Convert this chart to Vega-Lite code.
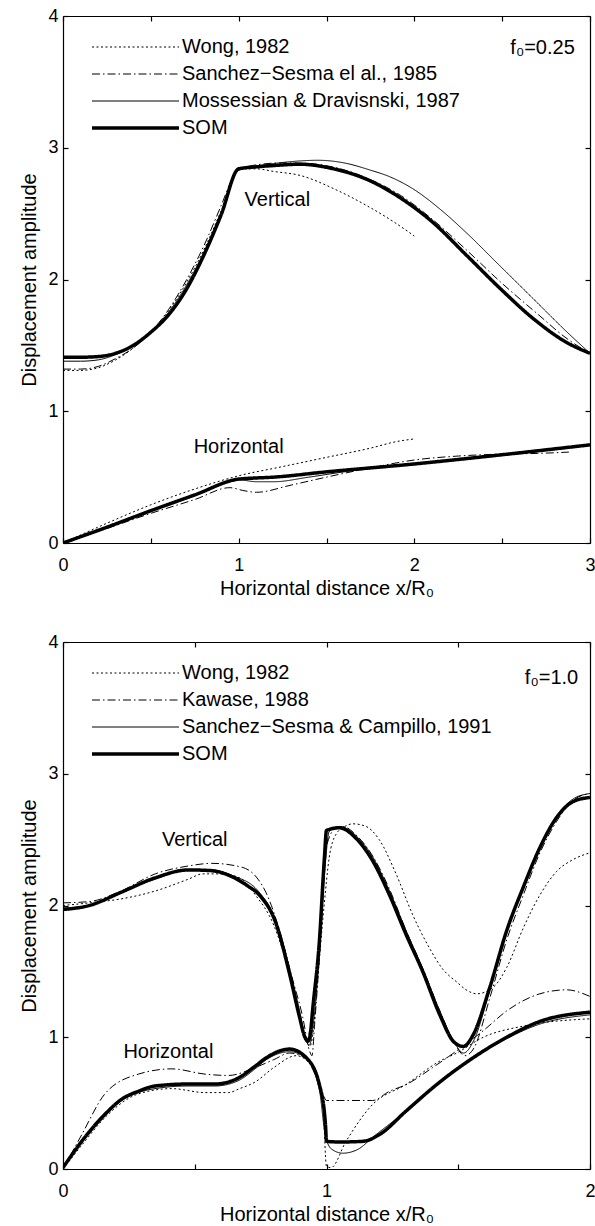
{
  "$schema": "https://vega.github.io/schema/vega-lite/v6.json",
  "padding": {"left": 19, "top": 7, "right": 0, "bottom": 0},
  "spacing": 35,
  "config": {
    "font": "Liberation Sans",
    "view": {"stroke": null},
    "axis": {
      "grid": false,
      "domainColor": "black",
      "domainWidth": 1.2,
      "tickColor": "black",
      "tickWidth": 1.2,
      "tickSize": -5,
      "labelFont": "Liberation Sans",
      "labelFontSize": 18,
      "labelColor": "black",
      "labelFlush": false,
      "labelOverlap": false,
      "titleFont": "Liberation Sans",
      "titleFontSize": 20,
      "titleFontWeight": "normal",
      "titleColor": "black"
    },
    "legend": {
      "orient": "none",
      "legendX": 95,
      "legendY": 21,
      "title": null,
      "labelFont": "Liberation Sans",
      "labelFontSize": 20,
      "labelColor": "black",
      "labelLimit": 0,
      "symbolType": "M-15.2,0H2.2",
      "symbolSize": 100,
      "symbolStrokeColor": "black",
      "symbolFillColor": "transparent",
      "labelOffset": 4,
      "rowPadding": 7,
      "padding": 0
    },
    "text": {"font": "Liberation Sans", "fontSize": 20, "color": "black"}
  },
  "datasets": {
    "a": [
      {"source":"Wong, 1982","comp":"V","x":0,"y":1.31},{"source":"Wong, 1982","comp":"V","x":0.1,"y":1.31},{"source":"Wong, 1982","comp":"V","x":0.2,"y":1.33},{"source":"Wong, 1982","comp":"V","x":0.3,"y":1.39},{"source":"Wong, 1982","comp":"V","x":0.4,"y":1.48},{"source":"Wong, 1982","comp":"V","x":0.5,"y":1.6},{"source":"Wong, 1982","comp":"V","x":0.6,"y":1.76},{"source":"Wong, 1982","comp":"V","x":0.7,"y":1.97},{"source":"Wong, 1982","comp":"V","x":0.8,"y":2.22},{"source":"Wong, 1982","comp":"V","x":0.9,"y":2.52},{"source":"Wong, 1982","comp":"V","x":1.0,"y":2.84},{"source":"Wong, 1982","comp":"V","x":1.1,"y":2.84},{"source":"Wong, 1982","comp":"V","x":1.2,"y":2.82},{"source":"Wong, 1982","comp":"V","x":1.35,"y":2.79},{"source":"Wong, 1982","comp":"V","x":1.54,"y":2.69},{"source":"Wong, 1982","comp":"V","x":1.73,"y":2.56},{"source":"Wong, 1982","comp":"V","x":1.88,"y":2.44},{"source":"Wong, 1982","comp":"V","x":2.0,"y":2.33},
      {"source":"Sanchez−Sesma el al., 1985","comp":"V","x":0,"y":1.32},{"source":"Sanchez−Sesma el al., 1985","comp":"V","x":0.1,"y":1.32},{"source":"Sanchez−Sesma el al., 1985","comp":"V","x":0.2,"y":1.34},{"source":"Sanchez−Sesma el al., 1985","comp":"V","x":0.3,"y":1.4},{"source":"Sanchez−Sesma el al., 1985","comp":"V","x":0.4,"y":1.48},{"source":"Sanchez−Sesma el al., 1985","comp":"V","x":0.5,"y":1.6},{"source":"Sanchez−Sesma el al., 1985","comp":"V","x":0.6,"y":1.77},{"source":"Sanchez−Sesma el al., 1985","comp":"V","x":0.7,"y":1.99},{"source":"Sanchez−Sesma el al., 1985","comp":"V","x":0.8,"y":2.25},{"source":"Sanchez−Sesma el al., 1985","comp":"V","x":0.9,"y":2.56},{"source":"Sanchez−Sesma el al., 1985","comp":"V","x":0.97,"y":2.78},{"source":"Sanchez−Sesma el al., 1985","comp":"V","x":1.0,"y":2.83},{"source":"Sanchez−Sesma el al., 1985","comp":"V","x":1.1,"y":2.87},{"source":"Sanchez−Sesma el al., 1985","comp":"V","x":1.25,"y":2.885},{"source":"Sanchez−Sesma el al., 1985","comp":"V","x":1.4,"y":2.88},{"source":"Sanchez−Sesma el al., 1985","comp":"V","x":1.55,"y":2.85},{"source":"Sanchez−Sesma el al., 1985","comp":"V","x":1.73,"y":2.77},{"source":"Sanchez−Sesma el al., 1985","comp":"V","x":1.92,"y":2.64},{"source":"Sanchez−Sesma el al., 1985","comp":"V","x":2.1,"y":2.46},{"source":"Sanchez−Sesma el al., 1985","comp":"V","x":2.3,"y":2.22},{"source":"Sanchez−Sesma el al., 1985","comp":"V","x":2.5,"y":1.97},{"source":"Sanchez−Sesma el al., 1985","comp":"V","x":2.7,"y":1.74},{"source":"Sanchez−Sesma el al., 1985","comp":"V","x":2.87,"y":1.55},{"source":"Sanchez−Sesma el al., 1985","comp":"V","x":3.0,"y":1.44},
      {"source":"Mossessian & Dravisnski, 1987","comp":"V","x":0,"y":1.38},{"source":"Mossessian & Dravisnski, 1987","comp":"V","x":0.1,"y":1.38},{"source":"Mossessian & Dravisnski, 1987","comp":"V","x":0.2,"y":1.39},{"source":"Mossessian & Dravisnski, 1987","comp":"V","x":0.3,"y":1.43},{"source":"Mossessian & Dravisnski, 1987","comp":"V","x":0.4,"y":1.5},{"source":"Mossessian & Dravisnski, 1987","comp":"V","x":0.5,"y":1.6},{"source":"Mossessian & Dravisnski, 1987","comp":"V","x":0.6,"y":1.75},{"source":"Mossessian & Dravisnski, 1987","comp":"V","x":0.7,"y":1.95},{"source":"Mossessian & Dravisnski, 1987","comp":"V","x":0.8,"y":2.2},{"source":"Mossessian & Dravisnski, 1987","comp":"V","x":0.9,"y":2.5},{"source":"Mossessian & Dravisnski, 1987","comp":"V","x":1.0,"y":2.83},{"source":"Mossessian & Dravisnski, 1987","comp":"V","x":1.1,"y":2.86},{"source":"Mossessian & Dravisnski, 1987","comp":"V","x":1.2,"y":2.88},{"source":"Mossessian & Dravisnski, 1987","comp":"V","x":1.35,"y":2.9},{"source":"Mossessian & Dravisnski, 1987","comp":"V","x":1.45,"y":2.905},{"source":"Mossessian & Dravisnski, 1987","comp":"V","x":1.6,"y":2.885},{"source":"Mossessian & Dravisnski, 1987","comp":"V","x":1.75,"y":2.83},{"source":"Mossessian & Dravisnski, 1987","comp":"V","x":1.86,"y":2.78},{"source":"Mossessian & Dravisnski, 1987","comp":"V","x":1.99,"y":2.69},{"source":"Mossessian & Dravisnski, 1987","comp":"V","x":2.15,"y":2.53},{"source":"Mossessian & Dravisnski, 1987","comp":"V","x":2.3,"y":2.35},{"source":"Mossessian & Dravisnski, 1987","comp":"V","x":2.49,"y":2.1},{"source":"Mossessian & Dravisnski, 1987","comp":"V","x":2.68,"y":1.85},{"source":"Mossessian & Dravisnski, 1987","comp":"V","x":2.87,"y":1.6},{"source":"Mossessian & Dravisnski, 1987","comp":"V","x":3.0,"y":1.44},
      {"source":"SOM","comp":"V","x":0,"y":1.41},{"source":"SOM","comp":"V","x":0.1,"y":1.41},{"source":"SOM","comp":"V","x":0.2,"y":1.415},{"source":"SOM","comp":"V","x":0.3,"y":1.44},{"source":"SOM","comp":"V","x":0.4,"y":1.5},{"source":"SOM","comp":"V","x":0.5,"y":1.6},{"source":"SOM","comp":"V","x":0.6,"y":1.73},{"source":"SOM","comp":"V","x":0.7,"y":1.92},{"source":"SOM","comp":"V","x":0.8,"y":2.18},{"source":"SOM","comp":"V","x":0.9,"y":2.49},{"source":"SOM","comp":"V","x":1.0,"y":2.84},{"source":"SOM","comp":"V","x":1.1,"y":2.855},{"source":"SOM","comp":"V","x":1.2,"y":2.865},{"source":"SOM","comp":"V","x":1.35,"y":2.875},{"source":"SOM","comp":"V","x":1.54,"y":2.84},{"source":"SOM","comp":"V","x":1.73,"y":2.76},{"source":"SOM","comp":"V","x":1.92,"y":2.62},{"source":"SOM","comp":"V","x":2.1,"y":2.44},{"source":"SOM","comp":"V","x":2.3,"y":2.18},{"source":"SOM","comp":"V","x":2.49,"y":1.93},{"source":"SOM","comp":"V","x":2.68,"y":1.7},{"source":"SOM","comp":"V","x":2.87,"y":1.52},{"source":"SOM","comp":"V","x":3.0,"y":1.44},
      {"source":"Wong, 1982","comp":"H","x":0,"y":0},{"source":"Wong, 1982","comp":"H","x":0.25,"y":0.15},{"source":"Wong, 1982","comp":"H","x":0.5,"y":0.29},{"source":"Wong, 1982","comp":"H","x":0.75,"y":0.41},{"source":"Wong, 1982","comp":"H","x":1.0,"y":0.51},{"source":"Wong, 1982","comp":"H","x":1.25,"y":0.58},{"source":"Wong, 1982","comp":"H","x":1.5,"y":0.65},{"source":"Wong, 1982","comp":"H","x":1.75,"y":0.72},{"source":"Wong, 1982","comp":"H","x":1.9,"y":0.77},{"source":"Wong, 1982","comp":"H","x":2.0,"y":0.79},
      {"source":"Sanchez−Sesma el al., 1985","comp":"H","x":0,"y":0},{"source":"Sanchez−Sesma el al., 1985","comp":"H","x":0.25,"y":0.11},{"source":"Sanchez−Sesma el al., 1985","comp":"H","x":0.5,"y":0.225},{"source":"Sanchez−Sesma el al., 1985","comp":"H","x":0.75,"y":0.33},{"source":"Sanchez−Sesma el al., 1985","comp":"H","x":0.95,"y":0.42},{"source":"Sanchez−Sesma el al., 1985","comp":"H","x":1.02,"y":0.4},{"source":"Sanchez−Sesma el al., 1985","comp":"H","x":1.1,"y":0.385},{"source":"Sanchez−Sesma el al., 1985","comp":"H","x":1.3,"y":0.44},{"source":"Sanchez−Sesma el al., 1985","comp":"H","x":1.5,"y":0.5},{"source":"Sanchez−Sesma el al., 1985","comp":"H","x":1.75,"y":0.57},{"source":"Sanchez−Sesma el al., 1985","comp":"H","x":2.0,"y":0.63},{"source":"Sanchez−Sesma el al., 1985","comp":"H","x":2.25,"y":0.66},{"source":"Sanchez−Sesma el al., 1985","comp":"H","x":2.5,"y":0.675},{"source":"Sanchez−Sesma el al., 1985","comp":"H","x":2.7,"y":0.68},{"source":"Sanchez−Sesma el al., 1985","comp":"H","x":2.88,"y":0.69},
      {"source":"Mossessian & Dravisnski, 1987","comp":"H","x":0,"y":0},{"source":"Mossessian & Dravisnski, 1987","comp":"H","x":0.25,"y":0.125},{"source":"Mossessian & Dravisnski, 1987","comp":"H","x":0.5,"y":0.25},{"source":"Mossessian & Dravisnski, 1987","comp":"H","x":0.75,"y":0.37},{"source":"Mossessian & Dravisnski, 1987","comp":"H","x":1.0,"y":0.48},{"source":"Mossessian & Dravisnski, 1987","comp":"H","x":1.1,"y":0.465},{"source":"Mossessian & Dravisnski, 1987","comp":"H","x":1.2,"y":0.465},{"source":"Mossessian & Dravisnski, 1987","comp":"H","x":1.4,"y":0.5},{"source":"Mossessian & Dravisnski, 1987","comp":"H","x":1.6,"y":0.54},{"source":"Mossessian & Dravisnski, 1987","comp":"H","x":2.0,"y":0.6},{"source":"Mossessian & Dravisnski, 1987","comp":"H","x":2.5,"y":0.665},{"source":"Mossessian & Dravisnski, 1987","comp":"H","x":3.0,"y":0.74},
      {"source":"SOM","comp":"H","x":0,"y":0},{"source":"SOM","comp":"H","x":0.25,"y":0.12},{"source":"SOM","comp":"H","x":0.5,"y":0.245},{"source":"SOM","comp":"H","x":0.75,"y":0.365},{"source":"SOM","comp":"H","x":1.0,"y":0.485},{"source":"SOM","comp":"H","x":1.05,"y":0.49},{"source":"SOM","comp":"H","x":1.2,"y":0.5},{"source":"SOM","comp":"H","x":1.5,"y":0.54},{"source":"SOM","comp":"H","x":2.0,"y":0.6},{"source":"SOM","comp":"H","x":2.5,"y":0.67},{"source":"SOM","comp":"H","x":3.0,"y":0.745}
    ],
    "b": [
      {"source":"Wong, 1982","comp":"V","x":0,"y":2.0},{"source":"Wong, 1982","comp":"V","x":0.1,"y":2.02},{"source":"Wong, 1982","comp":"V","x":0.22,"y":2.05},{"source":"Wong, 1982","comp":"V","x":0.35,"y":2.11},{"source":"Wong, 1982","comp":"V","x":0.476,"y":2.2},{"source":"Wong, 1982","comp":"V","x":0.53,"y":2.24},{"source":"Wong, 1982","comp":"V","x":0.6,"y":2.24},{"source":"Wong, 1982","comp":"V","x":0.67,"y":2.21},{"source":"Wong, 1982","comp":"V","x":0.73,"y":2.08},{"source":"Wong, 1982","comp":"V","x":0.8,"y":1.85},{"source":"Wong, 1982","comp":"V","x":0.86,"y":1.48},{"source":"Wong, 1982","comp":"V","x":0.9,"y":1.15},{"source":"Wong, 1982","comp":"V","x":0.925,"y":0.96},{"source":"Wong, 1982","comp":"V","x":0.937,"y":0.93},{"source":"Wong, 1982","comp":"V","x":0.948,"y":1.02},{"source":"Wong, 1982","comp":"V","x":0.965,"y":1.4},{"source":"Wong, 1982","comp":"V","x":0.99,"y":1.98},{"source":"Wong, 1982","comp":"V","x":1.01,"y":2.36},{"source":"Wong, 1982","comp":"V","x":1.036,"y":2.54},{"source":"Wong, 1982","comp":"V","x":1.07,"y":2.6},{"source":"Wong, 1982","comp":"V","x":1.1,"y":2.62},{"source":"Wong, 1982","comp":"V","x":1.15,"y":2.6},{"source":"Wong, 1982","comp":"V","x":1.2,"y":2.5},{"source":"Wong, 1982","comp":"V","x":1.264,"y":2.24},{"source":"Wong, 1982","comp":"V","x":1.327,"y":1.93},{"source":"Wong, 1982","comp":"V","x":1.39,"y":1.68},{"source":"Wong, 1982","comp":"V","x":1.44,"y":1.52},{"source":"Wong, 1982","comp":"V","x":1.494,"y":1.42},{"source":"Wong, 1982","comp":"V","x":1.53,"y":1.36},{"source":"Wong, 1982","comp":"V","x":1.57,"y":1.33},{"source":"Wong, 1982","comp":"V","x":1.633,"y":1.38},{"source":"Wong, 1982","comp":"V","x":1.684,"y":1.53},{"source":"Wong, 1982","comp":"V","x":1.747,"y":1.83},{"source":"Wong, 1982","comp":"V","x":1.81,"y":2.08},{"source":"Wong, 1982","comp":"V","x":1.874,"y":2.26},{"source":"Wong, 1982","comp":"V","x":1.937,"y":2.35},{"source":"Wong, 1982","comp":"V","x":2.0,"y":2.4},
      {"source":"Kawase, 1988","comp":"V","x":0,"y":2.02},{"source":"Kawase, 1988","comp":"V","x":0.1,"y":2.03},{"source":"Kawase, 1988","comp":"V","x":0.22,"y":2.11},{"source":"Kawase, 1988","comp":"V","x":0.35,"y":2.24},{"source":"Kawase, 1988","comp":"V","x":0.476,"y":2.3},{"source":"Kawase, 1988","comp":"V","x":0.564,"y":2.32},{"source":"Kawase, 1988","comp":"V","x":0.68,"y":2.29},{"source":"Kawase, 1988","comp":"V","x":0.74,"y":2.2},{"source":"Kawase, 1988","comp":"V","x":0.77,"y":2.1},{"source":"Kawase, 1988","comp":"V","x":0.822,"y":1.81},{"source":"Kawase, 1988","comp":"V","x":0.87,"y":1.45},{"source":"Kawase, 1988","comp":"V","x":0.91,"y":1.15},{"source":"Kawase, 1988","comp":"V","x":0.935,"y":0.9},{"source":"Kawase, 1988","comp":"V","x":0.945,"y":0.86},{"source":"Kawase, 1988","comp":"V","x":0.955,"y":1.1},{"source":"Kawase, 1988","comp":"V","x":0.973,"y":1.6},{"source":"Kawase, 1988","comp":"V","x":1.0,"y":2.45},{"source":"Kawase, 1988","comp":"V","x":1.036,"y":2.59},{"source":"Kawase, 1988","comp":"V","x":1.06,"y":2.6},{"source":"Kawase, 1988","comp":"V","x":1.12,"y":2.52},{"source":"Kawase, 1988","comp":"V","x":1.18,"y":2.36},{"source":"Kawase, 1988","comp":"V","x":1.24,"y":2.12},{"source":"Kawase, 1988","comp":"V","x":1.3,"y":1.82},{"source":"Kawase, 1988","comp":"V","x":1.37,"y":1.5},{"source":"Kawase, 1988","comp":"V","x":1.43,"y":1.2},{"source":"Kawase, 1988","comp":"V","x":1.48,"y":0.98},{"source":"Kawase, 1988","comp":"V","x":1.525,"y":0.86},{"source":"Kawase, 1988","comp":"V","x":1.56,"y":0.92},{"source":"Kawase, 1988","comp":"V","x":1.62,"y":1.3},{"source":"Kawase, 1988","comp":"V","x":1.684,"y":1.74},{"source":"Kawase, 1988","comp":"V","x":1.747,"y":2.08},{"source":"Kawase, 1988","comp":"V","x":1.81,"y":2.4},{"source":"Kawase, 1988","comp":"V","x":1.874,"y":2.64},{"source":"Kawase, 1988","comp":"V","x":1.937,"y":2.8},{"source":"Kawase, 1988","comp":"V","x":2.0,"y":2.85},
      {"source":"Sanchez−Sesma & Campillo, 1991","comp":"V","x":0,"y":1.98},{"source":"Sanchez−Sesma & Campillo, 1991","comp":"V","x":0.1,"y":2.0},{"source":"Sanchez−Sesma & Campillo, 1991","comp":"V","x":0.22,"y":2.1},{"source":"Sanchez−Sesma & Campillo, 1991","comp":"V","x":0.35,"y":2.2},{"source":"Sanchez−Sesma & Campillo, 1991","comp":"V","x":0.476,"y":2.27},{"source":"Sanchez−Sesma & Campillo, 1991","comp":"V","x":0.56,"y":2.27},{"source":"Sanchez−Sesma & Campillo, 1991","comp":"V","x":0.64,"y":2.23},{"source":"Sanchez−Sesma & Campillo, 1991","comp":"V","x":0.745,"y":2.1},{"source":"Sanchez−Sesma & Campillo, 1991","comp":"V","x":0.809,"y":1.88},{"source":"Sanchez−Sesma & Campillo, 1991","comp":"V","x":0.86,"y":1.52},{"source":"Sanchez−Sesma & Campillo, 1991","comp":"V","x":0.9,"y":1.18},{"source":"Sanchez−Sesma & Campillo, 1991","comp":"V","x":0.92,"y":0.99},{"source":"Sanchez−Sesma & Campillo, 1991","comp":"V","x":0.935,"y":0.94},{"source":"Sanchez−Sesma & Campillo, 1991","comp":"V","x":0.95,"y":1.1},{"source":"Sanchez−Sesma & Campillo, 1991","comp":"V","x":0.975,"y":1.7},{"source":"Sanchez−Sesma & Campillo, 1991","comp":"V","x":0.995,"y":2.3},{"source":"Sanchez−Sesma & Campillo, 1991","comp":"V","x":1.01,"y":2.56},{"source":"Sanchez−Sesma & Campillo, 1991","comp":"V","x":1.05,"y":2.6},{"source":"Sanchez−Sesma & Campillo, 1991","comp":"V","x":1.112,"y":2.53},{"source":"Sanchez−Sesma & Campillo, 1991","comp":"V","x":1.175,"y":2.37},{"source":"Sanchez−Sesma & Campillo, 1991","comp":"V","x":1.239,"y":2.11},{"source":"Sanchez−Sesma & Campillo, 1991","comp":"V","x":1.302,"y":1.81},{"source":"Sanchez−Sesma & Campillo, 1991","comp":"V","x":1.365,"y":1.52},{"source":"Sanchez−Sesma & Campillo, 1991","comp":"V","x":1.43,"y":1.2},{"source":"Sanchez−Sesma & Campillo, 1991","comp":"V","x":1.48,"y":0.98},{"source":"Sanchez−Sesma & Campillo, 1991","comp":"V","x":1.52,"y":0.88},{"source":"Sanchez−Sesma & Campillo, 1991","comp":"V","x":1.56,"y":0.98},{"source":"Sanchez−Sesma & Campillo, 1991","comp":"V","x":1.62,"y":1.36},{"source":"Sanchez−Sesma & Campillo, 1991","comp":"V","x":1.684,"y":1.8},{"source":"Sanchez−Sesma & Campillo, 1991","comp":"V","x":1.747,"y":2.14},{"source":"Sanchez−Sesma & Campillo, 1991","comp":"V","x":1.81,"y":2.45},{"source":"Sanchez−Sesma & Campillo, 1991","comp":"V","x":1.874,"y":2.68},{"source":"Sanchez−Sesma & Campillo, 1991","comp":"V","x":1.937,"y":2.81},{"source":"Sanchez−Sesma & Campillo, 1991","comp":"V","x":2.0,"y":2.85},
      {"source":"SOM","comp":"V","x":0,"y":1.97},{"source":"SOM","comp":"V","x":0.1,"y":2.0},{"source":"SOM","comp":"V","x":0.22,"y":2.1},{"source":"SOM","comp":"V","x":0.35,"y":2.21},{"source":"SOM","comp":"V","x":0.476,"y":2.27},{"source":"SOM","comp":"V","x":0.56,"y":2.265},{"source":"SOM","comp":"V","x":0.64,"y":2.22},{"source":"SOM","comp":"V","x":0.7,"y":2.15},{"source":"SOM","comp":"V","x":0.745,"y":2.08},{"source":"SOM","comp":"V","x":0.809,"y":1.86},{"source":"SOM","comp":"V","x":0.86,"y":1.48},{"source":"SOM","comp":"V","x":0.898,"y":1.15},{"source":"SOM","comp":"V","x":0.918,"y":1.0},{"source":"SOM","comp":"V","x":0.93,"y":0.97},{"source":"SOM","comp":"V","x":0.94,"y":1.05},{"source":"SOM","comp":"V","x":0.948,"y":1.22},{"source":"SOM","comp":"V","x":0.973,"y":1.73},{"source":"SOM","comp":"V","x":0.992,"y":2.36},{"source":"SOM","comp":"V","x":1.0,"y":2.57},{"source":"SOM","comp":"V","x":1.049,"y":2.59},{"source":"SOM","comp":"V","x":1.112,"y":2.51},{"source":"SOM","comp":"V","x":1.175,"y":2.34},{"source":"SOM","comp":"V","x":1.239,"y":2.08},{"source":"SOM","comp":"V","x":1.302,"y":1.78},{"source":"SOM","comp":"V","x":1.365,"y":1.5},{"source":"SOM","comp":"V","x":1.43,"y":1.17},{"source":"SOM","comp":"V","x":1.481,"y":0.97},{"source":"SOM","comp":"V","x":1.519,"y":0.93},{"source":"SOM","comp":"V","x":1.557,"y":1.02},{"source":"SOM","comp":"V","x":1.62,"y":1.38},{"source":"SOM","comp":"V","x":1.684,"y":1.81},{"source":"SOM","comp":"V","x":1.747,"y":2.14},{"source":"SOM","comp":"V","x":1.81,"y":2.44},{"source":"SOM","comp":"V","x":1.874,"y":2.67},{"source":"SOM","comp":"V","x":1.937,"y":2.79},{"source":"SOM","comp":"V","x":2.0,"y":2.82},
      {"source":"Wong, 1982","comp":"H","x":0,"y":0},{"source":"Wong, 1982","comp":"H","x":0.071,"y":0.18},{"source":"Wong, 1982","comp":"H","x":0.159,"y":0.39},{"source":"Wong, 1982","comp":"H","x":0.286,"y":0.57},{"source":"Wong, 1982","comp":"H","x":0.413,"y":0.61},{"source":"Wong, 1982","comp":"H","x":0.539,"y":0.58},{"source":"Wong, 1982","comp":"H","x":0.628,"y":0.58},{"source":"Wong, 1982","comp":"H","x":0.67,"y":0.61},{"source":"Wong, 1982","comp":"H","x":0.729,"y":0.66},{"source":"Wong, 1982","comp":"H","x":0.8,"y":0.77},{"source":"Wong, 1982","comp":"H","x":0.885,"y":0.86},{"source":"Wong, 1982","comp":"H","x":0.948,"y":0.77},{"source":"Wong, 1982","comp":"H","x":0.985,"y":0.54},{"source":"Wong, 1982","comp":"H","x":1.0,"y":0.02},{"source":"Wong, 1982","comp":"H","x":1.017,"y":0.01},{"source":"Wong, 1982","comp":"H","x":1.074,"y":0.21},{"source":"Wong, 1982","comp":"H","x":1.175,"y":0.49},{"source":"Wong, 1982","comp":"H","x":1.3,"y":0.64},{"source":"Wong, 1982","comp":"H","x":1.431,"y":0.82},{"source":"Wong, 1982","comp":"H","x":1.494,"y":0.88},{"source":"Wong, 1982","comp":"H","x":1.595,"y":1.0},{"source":"Wong, 1982","comp":"H","x":1.747,"y":1.085},{"source":"Wong, 1982","comp":"H","x":2.0,"y":1.14},
      {"source":"Kawase, 1988","comp":"H","x":0,"y":0},{"source":"Kawase, 1988","comp":"H","x":0.071,"y":0.26},{"source":"Kawase, 1988","comp":"H","x":0.159,"y":0.57},{"source":"Kawase, 1988","comp":"H","x":0.286,"y":0.72},{"source":"Kawase, 1988","comp":"H","x":0.413,"y":0.76},{"source":"Kawase, 1988","comp":"H","x":0.539,"y":0.72},{"source":"Kawase, 1988","comp":"H","x":0.628,"y":0.71},{"source":"Kawase, 1988","comp":"H","x":0.729,"y":0.77},{"source":"Kawase, 1988","comp":"H","x":0.8,"y":0.83},{"source":"Kawase, 1988","comp":"H","x":0.86,"y":0.88},{"source":"Kawase, 1988","comp":"H","x":0.92,"y":0.84},{"source":"Kawase, 1988","comp":"H","x":0.965,"y":0.68},{"source":"Kawase, 1988","comp":"H","x":0.99,"y":0.55},{"source":"Kawase, 1988","comp":"H","x":1.0,"y":0.52},{"source":"Kawase, 1988","comp":"H","x":1.175,"y":0.52},{"source":"Kawase, 1988","comp":"H","x":1.239,"y":0.59},{"source":"Kawase, 1988","comp":"H","x":1.302,"y":0.64},{"source":"Kawase, 1988","comp":"H","x":1.403,"y":0.77},{"source":"Kawase, 1988","comp":"H","x":1.53,"y":0.95},{"source":"Kawase, 1988","comp":"H","x":1.595,"y":1.05},{"source":"Kawase, 1988","comp":"H","x":1.684,"y":1.2},{"source":"Kawase, 1988","comp":"H","x":1.81,"y":1.33},{"source":"Kawase, 1988","comp":"H","x":1.911,"y":1.36},{"source":"Kawase, 1988","comp":"H","x":2.0,"y":1.31},
      {"source":"Sanchez−Sesma & Campillo, 1991","comp":"H","x":0,"y":0.01},{"source":"Sanchez−Sesma & Campillo, 1991","comp":"H","x":0.071,"y":0.2},{"source":"Sanchez−Sesma & Campillo, 1991","comp":"H","x":0.159,"y":0.4},{"source":"Sanchez−Sesma & Campillo, 1991","comp":"H","x":0.223,"y":0.52},{"source":"Sanchez−Sesma & Campillo, 1991","comp":"H","x":0.286,"y":0.58},{"source":"Sanchez−Sesma & Campillo, 1991","comp":"H","x":0.349,"y":0.61},{"source":"Sanchez−Sesma & Campillo, 1991","comp":"H","x":0.476,"y":0.63},{"source":"Sanchez−Sesma & Campillo, 1991","comp":"H","x":0.577,"y":0.63},{"source":"Sanchez−Sesma & Campillo, 1991","comp":"H","x":0.665,"y":0.67},{"source":"Sanchez−Sesma & Campillo, 1991","comp":"H","x":0.729,"y":0.76},{"source":"Sanchez−Sesma & Campillo, 1991","comp":"H","x":0.772,"y":0.83},{"source":"Sanchez−Sesma & Campillo, 1991","comp":"H","x":0.86,"y":0.89},{"source":"Sanchez−Sesma & Campillo, 1991","comp":"H","x":0.923,"y":0.84},{"source":"Sanchez−Sesma & Campillo, 1991","comp":"H","x":0.973,"y":0.6},{"source":"Sanchez−Sesma & Campillo, 1991","comp":"H","x":0.996,"y":0.25},{"source":"Sanchez−Sesma & Campillo, 1991","comp":"H","x":1.02,"y":0.15},{"source":"Sanchez−Sesma & Campillo, 1991","comp":"H","x":1.062,"y":0.12},{"source":"Sanchez−Sesma & Campillo, 1991","comp":"H","x":1.12,"y":0.15},{"source":"Sanchez−Sesma & Campillo, 1991","comp":"H","x":1.175,"y":0.24},{"source":"Sanchez−Sesma & Campillo, 1991","comp":"H","x":1.302,"y":0.44},{"source":"Sanchez−Sesma & Campillo, 1991","comp":"H","x":1.43,"y":0.66},{"source":"Sanchez−Sesma & Campillo, 1991","comp":"H","x":1.557,"y":0.84},{"source":"Sanchez−Sesma & Campillo, 1991","comp":"H","x":1.684,"y":0.99},{"source":"Sanchez−Sesma & Campillo, 1991","comp":"H","x":1.81,"y":1.1},{"source":"Sanchez−Sesma & Campillo, 1991","comp":"H","x":2.0,"y":1.17},
      {"source":"SOM","comp":"H","x":0,"y":0.01},{"source":"SOM","comp":"H","x":0.071,"y":0.21},{"source":"SOM","comp":"H","x":0.159,"y":0.415},{"source":"SOM","comp":"H","x":0.223,"y":0.53},{"source":"SOM","comp":"H","x":0.286,"y":0.59},{"source":"SOM","comp":"H","x":0.349,"y":0.63},{"source":"SOM","comp":"H","x":0.476,"y":0.645},{"source":"SOM","comp":"H","x":0.577,"y":0.645},{"source":"SOM","comp":"H","x":0.665,"y":0.69},{"source":"SOM","comp":"H","x":0.729,"y":0.78},{"source":"SOM","comp":"H","x":0.772,"y":0.845},{"source":"SOM","comp":"H","x":0.86,"y":0.91},{"source":"SOM","comp":"H","x":0.923,"y":0.845},{"source":"SOM","comp":"H","x":0.973,"y":0.64},{"source":"SOM","comp":"H","x":0.996,"y":0.34},{"source":"SOM","comp":"H","x":1.0,"y":0.21},{"source":"SOM","comp":"H","x":1.05,"y":0.205},{"source":"SOM","comp":"H","x":1.138,"y":0.21},{"source":"SOM","comp":"H","x":1.2,"y":0.26},{"source":"SOM","comp":"H","x":1.302,"y":0.44},{"source":"SOM","comp":"H","x":1.43,"y":0.66},{"source":"SOM","comp":"H","x":1.557,"y":0.845},{"source":"SOM","comp":"H","x":1.684,"y":1.0},{"source":"SOM","comp":"H","x":1.81,"y":1.12},{"source":"SOM","comp":"H","x":2.0,"y":1.19}
    ],
    "la": [
      {"label":"Vertical","x":1.22,"y":2.6},
      {"label":"Horizontal","x":1.0,"y":0.73},
      {"label":"f₀=0.25","x":2.73,"y":3.76}
    ],
    "lb": [
      {"label":"Vertical","x":0.5,"y":2.5},
      {"label":"Horizontal","x":0.4,"y":0.89},
      {"label":"f₀=1.0","x":1.854,"y":3.73}
    ]
  },
  "resolve": {
    "scale": {"strokeDash": "independent", "strokeWidth": "independent"},
    "legend": {"strokeDash": "independent", "strokeWidth": "independent"}
  },
  "vconcat": [
    {
      "width": 527,
      "height": 527,
      "resolve": {"axis": {"x": "independent", "y": "independent"}},
      "layer": [
        {
          "data": {"name": "a"},
          "mark": {"type": "line", "color": "black", "interpolate": "monotone", "clip": true},
          "encoding": {
            "x": {"field": "x", "type": "quantitative", "scale": {"domain": [0, 3], "nice": false},
              "axis": {"values": [0, 0.5, 1, 1.5, 2, 2.5, 3], "labelExpr": "datum.value % 1 === 0 ? format(datum.value, 'd') : ''", "title": "Horizontal distance x/R₀", "labelPadding": 18, "titlePadding": 4}},
            "y": {"field": "y", "type": "quantitative", "scale": {"domain": [0, 4], "nice": false},
              "axis": {"values": [0, 1, 2, 3, 4], "format": "d", "title": "Displacement amplitude", "labelPadding": 10, "titlePadding": 8}},
            "detail": {"field": "comp"},
            "strokeDash": {"field": "source", "type": "nominal",
              "scale": {"domain": ["Wong, 1982", "Sanchez−Sesma el al., 1985", "Mossessian & Dravisnski, 1987", "SOM"], "range": [[2, 2.5], [8, 3, 1.5, 3], [1, 0], [1, 0]]},
              "legend": {"title": null}},
            "strokeWidth": {"field": "source", "type": "nominal",
              "scale": {"type": "ordinal", "domain": ["Wong, 1982", "Sanchez−Sesma el al., 1985", "Mossessian & Dravisnski, 1987", "SOM"], "range": [1, 1, 1, 3.5]},
              "legend": {"title": null}}
          }
        },
        {
          "data": {"name": "la"},
          "mark": {"type": "text", "baseline": "middle", "align": "center"},
          "encoding": {
            "x": {"field": "x", "type": "quantitative",
              "axis": {"orient": "top", "values": [0, 0.5, 1, 1.5, 2, 2.5, 3], "labels": false, "title": null}},
            "y": {"field": "y", "type": "quantitative",
              "axis": {"orient": "right", "values": [0, 1, 2, 3, 4], "labels": false, "title": null}},
            "text": {"field": "label"}
          }
        }
      ]
    },
    {
      "width": 527,
      "height": 527,
      "resolve": {"axis": {"x": "independent", "y": "independent"}},
      "layer": [
        {
          "data": {"name": "b"},
          "mark": {"type": "line", "color": "black", "interpolate": "monotone", "clip": true},
          "encoding": {
            "x": {"field": "x", "type": "quantitative", "scale": {"domain": [0, 2], "nice": false},
              "axis": {"values": [0, 0.5, 1, 1.5, 2], "labelExpr": "datum.value % 1 === 0 ? format(datum.value, 'd') : ''", "title": "Horizontal distance x/R₀", "labelPadding": 18, "titlePadding": 4}},
            "y": {"field": "y", "type": "quantitative", "scale": {"domain": [0, 4], "nice": false},
              "axis": {"values": [0, 1, 2, 3, 4], "format": "d", "title": "Displacement amplitude", "labelPadding": 10, "titlePadding": 8}},
            "detail": {"field": "comp"},
            "strokeDash": {"field": "source", "type": "nominal",
              "scale": {"domain": ["Wong, 1982", "Kawase, 1988", "Sanchez−Sesma & Campillo, 1991", "SOM"], "range": [[2, 2.5], [8, 3, 1.5, 3], [1, 0], [1, 0]]},
              "legend": {"title": null}},
            "strokeWidth": {"field": "source", "type": "nominal",
              "scale": {"type": "ordinal", "domain": ["Wong, 1982", "Kawase, 1988", "Sanchez−Sesma & Campillo, 1991", "SOM"], "range": [1, 1, 1, 3.5]},
              "legend": {"title": null}}
          }
        },
        {
          "data": {"name": "lb"},
          "mark": {"type": "text", "baseline": "middle", "align": "center"},
          "encoding": {
            "x": {"field": "x", "type": "quantitative",
              "axis": {"orient": "top", "values": [0, 0.5, 1, 1.5, 2], "labels": false, "title": null}},
            "y": {"field": "y", "type": "quantitative",
              "axis": {"orient": "right", "values": [0, 1, 2, 3, 4], "labels": false, "title": null}},
            "text": {"field": "label"}
          }
        }
      ]
    }
  ]
}
